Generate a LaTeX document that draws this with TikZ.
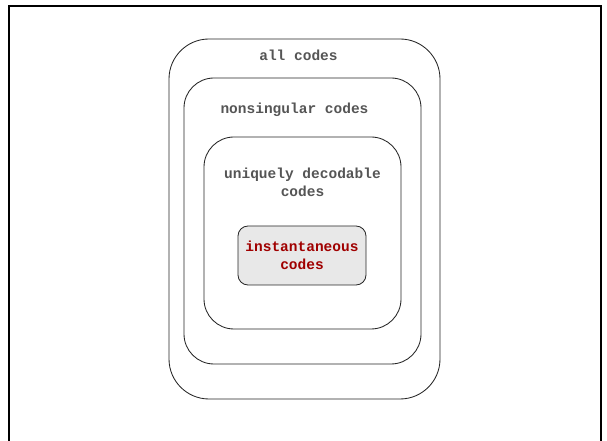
\documentclass[tikz,border=0pt]{standalone}
\usepackage{fontspec}
\setmonofont{Liberation Mono}
\usetikzlibrary{positioning}
\definecolor{labelgray}{HTML}{555555}
\definecolor{codered}{HTML}{A00000}
\definecolor{boxfill}{HTML}{E8E8E8}
\tikzset{
        x=1pt, y=1pt,
        frame/.style={draw=black, line width=2.2pt},
        codeset/.style={draw=black!85, line width=0.85pt, rounded corners=30pt, inner sep=0pt},
        innerset/.style={codeset, rounded corners=10pt, fill=boxfill},
        setname/.style={text=labelgray, font=\ttfamily\bfseries\fontsize{14.5}{18}\selectfont, align=center, inner sep=0pt},
        innername/.style={setname, text=codered}
          }
\begin{document}
\begin{tikzpicture}
        \useasboundingbox (0,0) rectangle (607,441);
        \draw[frame] (9,-10) rectangle (601,435);
        % nested code classes, outermost first
        \node[codeset, rounded corners=40pt, minimum width=271pt, minimum height=360pt] (all) at (304.5,222) {};
        \node[codeset, minimum width=237pt, minimum height=286pt] (nonsing) at (302.5,220) {};
        \node[codeset, minimum width=197pt, minimum height=192pt] (ud) at (302.5,208) {};
        \node[innerset, minimum width=128pt, minimum height=59pt] (inst) at (302,185.5) {};
        % names of the classes
        \node[setname, below=11pt of all.north, xshift=-6pt] (allname) {all codes};
        \node[setname, below=25pt of nonsing.north, xshift=-8pt] (nonsingname) {nonsingular codes};
        \node[setname, below=31pt of ud.north] (udname) {uniquely decodable\\codes};
        \node[innername] (instname) at (inst) {instantaneous\\codes};
\end{tikzpicture}
\end{document}
